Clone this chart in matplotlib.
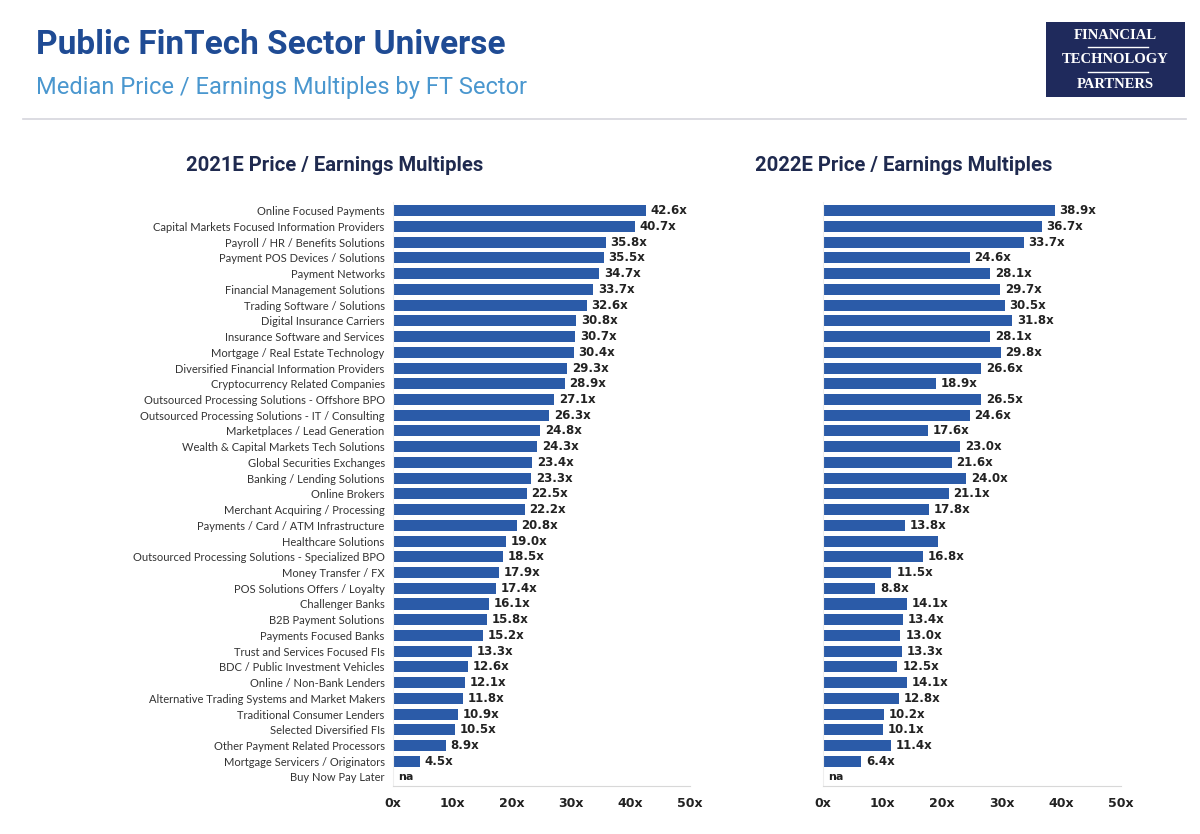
import numpy as np
import matplotlib
matplotlib.use("Agg")
import matplotlib.pyplot as plt
from matplotlib.patches import Rectangle

sectors = [
    "Online Focused Payments",
    "Capital Markets Focused Information Providers",
    "Payroll / HR / Benefits Solutions",
    "Payment POS Devices / Solutions",
    "Payment Networks",
    "Financial Management Solutions",
    "Trading Software / Solutions",
    "Digital Insurance Carriers",
    "Insurance Software and Services",
    "Mortgage / Real Estate Technology",
    "Diversified Financial Information Providers",
    "Cryptocurrency Related Companies",
    "Outsourced Processing Solutions - Offshore BPO",
    "Outsourced Processing Solutions - IT / Consulting",
    "Marketplaces / Lead Generation",
    "Wealth & Capital Markets Tech Solutions",
    "Global Securities Exchanges",
    "Banking / Lending Solutions",
    "Online Brokers",
    "Merchant Acquiring / Processing",
    "Payments / Card / ATM Infrastructure",
    "Healthcare Solutions",
    "Outsourced Processing Solutions - Specialized BPO",
    "Money Transfer / FX",
    "POS Solutions Offers / Loyalty",
    "Challenger Banks",
    "B2B Payment Solutions",
    "Payments Focused Banks",
    "Trust and Services Focused FIs",
    "BDC / Public Investment Vehicles",
    "Online / Non-Bank Lenders",
    "Alternative Trading Systems and Market Makers",
    "Traditional Consumer Lenders",
    "Selected Diversified FIs",
    "Other Payment Related Processors",
    "Mortgage Servicers / Originators",
    "Buy Now Pay Later",
]

pe_2021 = [42.6, 40.7, 35.8, 35.5, 34.7, 33.7, 32.6, 30.8, 30.7, 30.4,
           29.3, 28.9, 27.1, 26.3, 24.8, 24.3, 23.4, 23.3, 22.5, 22.2,
           20.8, 19.0, 18.5, 17.9, 17.4, 16.1, 15.8, 15.2, 13.3, 12.6,
           12.1, 11.8, 10.9, 10.5, 8.9, 4.5, np.nan]

pe_2022 = [38.9, 36.7, 33.7, 24.6, 28.1, 29.7, 30.5, 31.8, 28.1, 29.8,
           26.6, 18.9, 26.5, 24.6, 17.6, 23.0, 21.6, 24.0, 21.1, 17.8,
           13.8, 19.3, 16.8, 11.5, 8.8, 14.1, 13.4, 13.0, 13.3, 12.5,
           14.1, 12.8, 10.2, 10.1, 11.4, 6.4, np.nan]

# the 2022 Healthcare bar carries no value label in the source
unlabeled_2022 = ["Healthcare Solutions"]

xticks = [0, 10, 20, 30, 40, 50]

BAR = "#2B5BA8"
NAVY = "#1F2A4F"

fig = plt.figure(figsize=(12, 8.34), dpi=100)

# header
fig.text(0.030, 0.946, "Public FinTech Sector Universe", fontsize=24,
         fontweight="bold", color="#1F4B94", family="Roboto", va="center")
fig.text(0.030, 0.895, "Median Price / Earnings Multiples by FT Sector",
         fontsize=17, color="#4A97CF", family="Roboto", va="center")
fig.add_artist(plt.Line2D([0.019, 0.988], [0.857, 0.857], color="#D5D5DD",
                          linewidth=1.2, transform=fig.transFigure))

# logo box
fig.add_artist(Rectangle((0.8717, 0.884), 0.1158, 0.090, transform=fig.transFigure,
                         facecolor="#1F2A5C", edgecolor="none"))
for y, txt in [(0.958, "FINANCIAL"), (0.929, "TECHNOLOGY"), (0.899, "PARTNERS")]:
    fig.text(0.9296, y, txt, fontsize=10.5, color="white", family="Liberation Serif",
             fontweight="bold", ha="center", va="center")
for y in [0.944, 0.914]:
    fig.add_artist(plt.Line2D([0.907, 0.957], [y, y], color="white",
                              linewidth=1, transform=fig.transFigure))


def draw_panel(ax, values, show_labels, unlabeled):
    y = np.arange(len(sectors))
    vals = np.array(values, dtype=float)
    ax.barh(y, np.nan_to_num(vals), height=0.7, color=BAR)
    for i, v in enumerate(vals):
        if np.isnan(v):
            ax.text(0.8, i, "na", va="center", ha="left", fontsize=8,
                    fontweight="bold", color="#222222")
        elif sectors[i] not in unlabeled:
            ax.text(v + 0.8, i, f"{v:.1f}x", va="center", ha="left",
                    fontsize=8.5, fontweight="bold", color="#222222")
    ax.set_xlim(0, 50)
    ax.set_ylim(len(sectors) - 0.43, -0.55)
    ax.set_xticks(xticks)
    ax.set_xticklabels([f"{t}x" for t in xticks], fontsize=9, fontweight="bold",
                       color="#222222")
    ax.tick_params(axis="x", length=0, pad=8)
    ax.set_yticks(y)
    if show_labels:
        ax.set_yticklabels(sectors, fontsize=8, color="#333333", family="Lato")
    else:
        ax.set_yticklabels([])
    ax.tick_params(axis="y", length=0, pad=6)
    for s in ["top", "right"]:
        ax.spines[s].set_visible(False)
    ax.spines["bottom"].set_color("#D8D8D8")
    ax.spines["left"].set_color("#EEEEEE")


ax1 = fig.add_axes([0.3275, 0.0576, 0.2475, 0.700])
draw_panel(ax1, pe_2021, True, [])
ax2 = fig.add_axes([0.6858, 0.0576, 0.2483, 0.700])
draw_panel(ax2, pe_2022, False, unlabeled_2022)

fig.text(0.279, 0.802, "2021E Price / Earnings Multiples", fontsize=14.6,
         fontweight="bold", color=NAVY, family="Roboto", ha="center", va="center")
fig.text(0.753, 0.802, "2022E Price / Earnings Multiples", fontsize=14.6,
         fontweight="bold", color=NAVY, family="Roboto", ha="center", va="center")

fig.savefig("out.png", dpi=100)
